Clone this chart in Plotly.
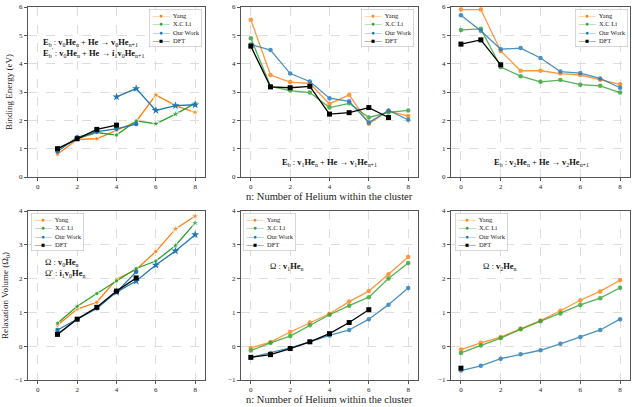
import plotly.graph_objects as go
from plotly.subplots import make_subplots

# ---------------- data ----------------
n_all = [0, 1, 2, 3, 4, 5, 6, 7, 8]
n_v0 = [1, 2, 3, 4, 5, 6, 7, 8]

# Binding energy, v0 He_n (panel 1)
yang_eb_v0 = [0.80, 1.33, 1.35, 1.65, 1.95, 2.90, 2.52, 2.28]
xcli_eb_v0 = [0.97, 1.35, 1.57, 1.48, 1.98, 1.88, 2.22, 2.60]
ours_eb_v0_n = [1, 2, 3, 4, 5]
ours_eb_v0 = [0.90, 1.40, 1.60, 1.70, 1.87]
ours_eb_i1_n = [4, 5, 6, 7, 8]
ours_eb_i1 = [2.83, 3.12, 2.35, 2.52, 2.55]
dft_eb_v0_n = [1, 2, 3, 4]
dft_eb_v0 = [1.00, 1.35, 1.68, 1.83]

# Binding energy, v1 He_n (panel 2)
yang_eb_v1 = [5.55, 3.60, 3.35, 3.30, 2.58, 2.90, 1.88, 2.33, 2.15]
xcli_eb_v1 = [4.90, 3.20, 3.05, 2.98, 2.45, 2.60, 2.10, 2.28, 2.35]
ours_eb_v1 = [4.68, 4.48, 3.65, 3.37, 2.78, 2.67, 1.92, 2.35, 2.02]
dft_eb_v1_n = [0, 1, 2, 3, 4, 5, 6, 7]
dft_eb_v1 = [4.62, 3.18, 3.15, 3.20, 2.22, 2.27, 2.45, 2.10]

# Binding energy, v2 He_n (panel 3)
yang_eb_v2 = [5.91, 5.91, 4.45, 3.75, 3.75, 3.65, 3.60, 3.43, 3.27]
xcli_eb_v2 = [5.19, 5.23, 3.88, 3.56, 3.36, 3.42, 3.26, 3.22, 2.98]
ours_eb_v2 = [5.71, 5.16, 4.51, 4.55, 4.20, 3.72, 3.67, 3.48, 3.15]
dft_eb_v2_n = [0, 1, 2]
dft_eb_v2 = [4.69, 4.84, 3.96]

# Relaxation volume, v0 He_n (panel 4)
yang_rv_v0 = [0.62, 1.10, 1.30, 1.98, 2.27, 2.80, 3.47, 3.85]
xcli_rv_v0 = [0.68, 1.18, 1.56, 1.93, 2.30, 2.52, 2.98, 3.65]
ours_rv_v0_n = [1, 2, 3, 4, 5]
ours_rv_v0 = [0.48, 0.80, 1.12, 1.60, 2.20]
ours_rv_i1_n = [4, 5, 6, 7, 8]
ours_rv_i1 = [1.60, 1.93, 2.40, 2.82, 3.30]
dft_rv_v0_n = [1, 2, 3, 4, 5]
dft_rv_v0 = [0.35, 0.80, 1.15, 1.63, 2.02]

# Relaxation volume, v1 He_n (panel 5)
yang_rv_v1 = [-0.05, 0.12, 0.42, 0.70, 0.96, 1.32, 1.63, 2.13, 2.64]
xcli_rv_v1 = [-0.13, 0.10, 0.30, 0.62, 0.93, 1.20, 1.45, 2.00, 2.46]
ours_rv_v1 = [-0.33, -0.20, -0.05, 0.13, 0.32, 0.48, 0.80, 1.23, 1.72]
dft_rv_v1_n = [0, 1, 2, 3, 4, 5, 6]
dft_rv_v1 = [-0.33, -0.25, -0.07, 0.13, 0.37, 0.70, 1.08]

# Relaxation volume, v2 He_n (panel 6)
yang_rv_v2 = [-0.10, 0.10, 0.27, 0.52, 0.76, 1.05, 1.36, 1.62, 1.95]
xcli_rv_v2 = [-0.20, 0.02, 0.24, 0.50, 0.74, 0.97, 1.22, 1.42, 1.73]
ours_rv_v2 = [-0.72, -0.58, -0.37, -0.24, -0.12, 0.07, 0.27, 0.48, 0.80]
dft_rv_v2_n = [0]
dft_rv_v2 = [-0.65]

series_names = ["Yang", "X.C Li", "Our Work", "DFT"]
x_ticks = [0, 2, 4, 6, 8]
xlabel = "n: Number of Helium within the cluster"
ylabel_top = "Binding Energy (eV)"
ylabel_bottom = "Relaxation Volume (Ω<sub>0</sub>)"

# ---------------- style ----------------
C_YANG = "#ff7f0e"
C_XCLI = "#2ca02c"
C_OURS = "#1f77b4"
C_DFT = "#000000"
COLORS = [C_YANG, C_XCLI, C_OURS, C_DFT]
GLYPHS = ["●", "●", "●", "■"]
FONT = "Liberation Serif"
STAR = 6.2

fig = make_subplots(rows=2, cols=3)


def sym(ns, start_star):
    return ["star" if v >= start_star else "circle" for v in ns]


def size(ns, start_star):
    return [STAR if v >= start_star else 4.5 for v in ns]


def add_line(x, y, name, color, row, col, symbol="circle", msize=4.5,
             opacity=1.0):
    fig.add_trace(go.Scatter(
        x=x, y=y, mode="lines+markers", name=name,
        line=dict(color=color, width=1.3),
        marker=dict(symbol=symbol, size=msize, color=color),
        opacity=opacity, showlegend=False,
    ), row=row, col=col)


# panel 1
add_line(n_v0, yang_eb_v0, "Yang", C_YANG, 1, 1, sym(n_v0, 6), size(n_v0, 6))
add_line(n_v0, xcli_eb_v0, "X.C Li", C_XCLI, 1, 1, sym(n_v0, 6), size(n_v0, 6))
add_line(ours_eb_v0_n, ours_eb_v0, "Our Work", C_OURS, 1, 1)
add_line(ours_eb_i1_n, ours_eb_i1, "Our Work", C_OURS, 1, 1, "star", STAR)
add_line(dft_eb_v0_n, dft_eb_v0, "DFT", C_DFT, 1, 1, "square", 5)

# panel 2
add_line(n_all, yang_eb_v1, "Yang", C_YANG, 1, 2, opacity=0.8)
add_line(n_all, xcli_eb_v1, "X.C Li", C_XCLI, 1, 2, opacity=0.8)
add_line(n_all, ours_eb_v1, "Our Work", C_OURS, 1, 2, opacity=0.8)
add_line(dft_eb_v1_n, dft_eb_v1, "DFT", C_DFT, 1, 2, "square", 5)

# panel 3
add_line(n_all, yang_eb_v2, "Yang", C_YANG, 1, 3, opacity=0.8)
add_line(n_all, xcli_eb_v2, "X.C Li", C_XCLI, 1, 3, opacity=0.8)
add_line(n_all, ours_eb_v2, "Our Work", C_OURS, 1, 3, opacity=0.8)
add_line(dft_eb_v2_n, dft_eb_v2, "DFT", C_DFT, 1, 3, "square", 5)

# panel 4
add_line(n_v0, yang_rv_v0, "Yang", C_YANG, 2, 1, sym(n_v0, 7), size(n_v0, 7))
add_line(n_v0, xcli_rv_v0, "X.C Li", C_XCLI, 2, 1, sym(n_v0, 7), size(n_v0, 7))
add_line(ours_rv_v0_n, ours_rv_v0, "Our Work", C_OURS, 2, 1)
add_line(ours_rv_i1_n, ours_rv_i1, "Our Work", C_OURS, 2, 1, "star", STAR)
add_line(dft_rv_v0_n, dft_rv_v0, "DFT", C_DFT, 2, 1, "square", 5)

# panel 5
add_line(n_all, yang_rv_v1, "Yang", C_YANG, 2, 2, opacity=0.8)
add_line(n_all, xcli_rv_v1, "X.C Li", C_XCLI, 2, 2, opacity=0.8)
add_line(n_all, ours_rv_v1, "Our Work", C_OURS, 2, 2, opacity=0.8)
add_line(dft_rv_v1_n, dft_rv_v1, "DFT", C_DFT, 2, 2, "square", 5)

# panel 6
add_line(n_all, yang_rv_v2, "Yang", C_YANG, 2, 3, opacity=0.8)
add_line(n_all, xcli_rv_v2, "X.C Li", C_XCLI, 2, 3, opacity=0.8)
add_line(n_all, ours_rv_v2, "Our Work", C_OURS, 2, 3, opacity=0.8)
add_line(dft_rv_v2_n, dft_rv_v2, "DFT", C_DFT, 2, 3, "square", 5)

W, H = 634, 407
xdom = [[28 / W, 205 / W], [241 / W, 418 / W], [451 / W, 630 / W]]
ydom = [[1 - 177 / H, 1 - 7 / H], [1 - 380 / H, 1 - 211 / H]]

axis_common = dict(
    showline=True, linecolor="#555555", linewidth=1, mirror=True,
    showgrid=True, gridcolor="#dddddd", griddash="dash", gridwidth=0.7,
    zeroline=False, ticks="outside", ticklen=3, tickcolor="#555555",
    tickfont=dict(size=7, family=FONT, color="#222"), automargin=False,
)

for i in range(6):
    r, c = divmod(i, 3)
    sfx = "" if i == 0 else str(i + 1)
    fig.layout["xaxis" + sfx].update(
        domain=xdom[c], range=[-0.5, 8.5], tickvals=x_ticks, **axis_common)
    fig.layout["yaxis" + sfx].update(
        domain=ydom[r], range=[0, 6] if r == 0 else [-1, 4], dtick=1,
        **axis_common)

fig.layout.yaxis.title = dict(text=ylabel_top,
                              font=dict(size=9, family=FONT), standoff=4)
fig.layout.yaxis4.title = dict(text=ylabel_bottom,
                               font=dict(size=9, family=FONT), standoff=4)


def legend_text():
    rows = []
    for name, col, g in zip(series_names, COLORS, GLYPHS):
        rows.append("<span style='color:%s'>—%s—</span>  %s" % (col, g, name))
    return "<br>".join(rows)


B = lambda s: "<b>" + s + "</b>"
ann_font = dict(size=8.5, family=FONT, color="#111")
annotations = [
    dict(x=41 / W, y=1 - 48 / H, xanchor="left", yanchor="middle", align="left",
         text=(B("E") + "<sub>b</sub> : " + B("v") + "<sub>0</sub>" + B("He") + "<sub>n</sub> + "
               + B("He") + " → " + B("v") + "<sub>0</sub>" + B("He") + "<sub>n+1</sub><br>"
               + B("E") + "<sub>b</sub><sup>'</sup> : " + B("v") + "<sub>0</sub>" + B("He")
               + "<sub>n</sub> + " + B("He") + " → " + B("i") + "<sub>1</sub>" + B("v")
               + "<sub>0</sub>" + B("He") + "<sub>n+1</sub>")),
    dict(x=329 / W, y=1 - 163 / H, xanchor="center", yanchor="middle",
         text=(B("E") + "<sub>b</sub> : " + B("v") + "<sub>1</sub>" + B("He") + "<sub>n</sub> + "
               + B("He") + " → " + B("v") + "<sub>1</sub>" + B("He") + "<sub>n+1</sub>")),
    dict(x=541 / W, y=1 - 163 / H, xanchor="center", yanchor="middle",
         text=(B("E") + "<sub>b</sub> : " + B("v") + "<sub>2</sub>" + B("He") + "<sub>n</sub> + "
               + B("He") + " → " + B("v") + "<sub>2</sub>" + B("He") + "<sub>n+1</sub>")),
    dict(x=43 / W, y=1 - 268 / H, xanchor="left", yanchor="middle", align="left",
         text=("Ω : " + B("v") + "<sub>0</sub>" + B("He") + "<sub>n</sub><br>"
               + "Ω' : " + B("i") + "<sub>1</sub>" + B("v") + "<sub>0</sub>" + B("He")
               + "<sub>n</sub>")),
    dict(x=268 / W, y=1 - 266 / H, xanchor="left", yanchor="middle",
         text="Ω : " + B("v") + "<sub>1</sub>" + B("He") + "<sub>n</sub>"),
    dict(x=481 / W, y=1 - 266 / H, xanchor="left", yanchor="middle",
         text="Ω : " + B("v") + "<sub>2</sub>" + B("He") + "<sub>n</sub>"),
]
for a in annotations:
    a.update(font=ann_font)

# x-axis titles under the middle column
for yy in (196, 399):
    annotations.append(dict(x=329.5 / W, y=1 - yy / H, xanchor="center",
                            yanchor="middle", text=xlabel,
                            font=dict(size=10.5, family=FONT, color="#222")))

# legend boxes (one per panel)
leg_pos = [
    (202, 9, "right"), (414, 9, "right"), (628, 9, "right"),
    (31, 213, "left"), (243, 213, "left"), (455, 213, "left"),
]
for (lx, ly, anc) in leg_pos:
    annotations.append(dict(
        x=lx / W, y=1 - ly / H, xanchor=anc, yanchor="top", align="left",
        text=legend_text(), bgcolor="rgba(255,255,255,0.85)",
        bordercolor="#cccccc", borderwidth=0.8, borderpad=2,
        font=dict(size=6.5, family=FONT, color="#222"),
    ))

for a in annotations:
    a.update(xref="paper", yref="paper", showarrow=False)
fig.layout.annotations = annotations

fig.update_layout(
    width=W, height=H, margin=dict(l=0, r=0, t=0, b=0),
    paper_bgcolor="white", plot_bgcolor="white",
    font=dict(family=FONT, color="#222"), showlegend=False,
)

fig.write_html(
    "out.html",
    config={"displayModeBar": False},
    post_script="document.body.style.margin='0';"
                "document.body.style.overflow='hidden';",
)
